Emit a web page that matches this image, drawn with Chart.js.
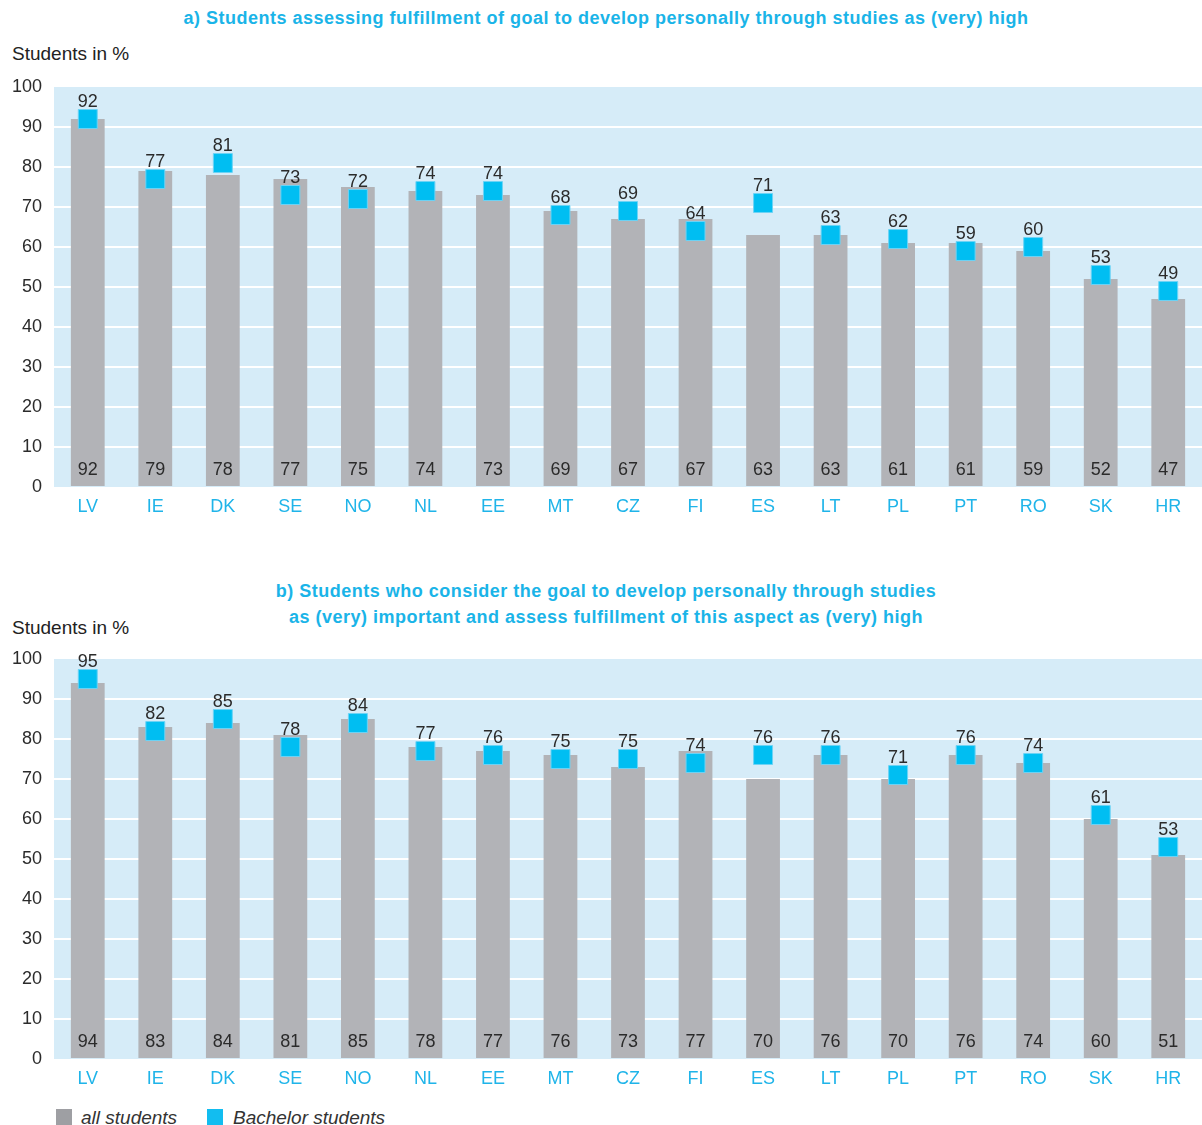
<!DOCTYPE html>
<html><head><meta charset="utf-8">
<script src="https://cdn.jsdelivr.net/npm/chart.js@4/dist/chart.umd.min.js"></script>
<style>
body{margin:0;background:#fff;width:1202px;height:1125px;position:relative;overflow:hidden;font-family:"Liberation Sans",Arial,sans-serif;}
.t{position:absolute;left:0;width:1212px;text-align:center;color:#1AB4E8;font-weight:bold;font-size:18px;letter-spacing:0.5px;}
.yl{position:absolute;left:12px;font-size:19px;color:#222;}
.cw{position:absolute;left:0;width:1202px;height:530px;}
.lg{position:absolute;top:1107px;font-size:19px;color:#333;font-style:italic;}
.sq{position:absolute;top:1109px;width:16px;height:16px;}
</style></head><body>
<div class="t" style="top:8px">a) Students assessing fulfillment of goal to develop personally through studies as (very) high</div>
<div class="yl" style="top:43px">Students in %</div>
<div class="cw" style="top:0"><canvas id="c1" width="1202" height="530"></canvas></div>
<div class="t" style="top:581px">b) Students who consider the goal to develop personally through studies</div>
<div class="t" style="top:607px">as (very) important and assess fulfillment of this aspect as (very) high</div>
<div class="yl" style="top:617px">Students in %</div>
<div class="cw" style="top:572px"><canvas id="c2" width="1202" height="530"></canvas></div>
<div class="sq" style="left:56px;background:#9E9FA3"></div>
<div class="lg" style="left:81px">all students</div>
<div class="sq" style="left:207px;background:#12BDF0"></div>
<div class="lg" style="left:233px">Bachelor students</div>
<script>
const categories = ["LV","IE","DK","SE","NO","NL","EE","MT","CZ","FI","ES","LT","PL","PT","RO","SK","HR"];
const allA = [92,79,78,77,75,74,73,69,67,67,63,63,61,61,59,52,47];
const bachA = [92,77,81,73,72,74,74,68,69,64,71,63,62,59,60,53,49];
const allB = [94,83,84,81,85,78,77,76,73,77,70,76,70,76,74,60,51];
const bachB = [95,82,85,78,84,77,76,75,75,74,76,76,71,76,74,61,53];
const yTicks = [0,10,20,30,40,50,60,70,80,90,100];

const FONT = "'Liberation Sans', Arial, sans-serif";
const bgPlugin = {
  id:'bg',
  beforeDraw(chart){
    const a = chart.chartArea, ctx = chart.ctx;
    ctx.save(); ctx.fillStyle = '#D6ECF8';
    ctx.fillRect(a.left, a.top, a.right-a.left, a.bottom-a.top);
    ctx.restore();
  }
};
const labelPlugin = {
  id:'lbl',
  afterDatasetsDraw(chart){
    const ctx = chart.ctx, y = chart.scales.y;
    ctx.save();
    ctx.font = "18px " + FONT; ctx.fillStyle = '#2b2b2b';
    ctx.textAlign = 'center'; ctx.textBaseline = 'middle';
    const bars = chart.getDatasetMeta(0).data;
    const pts = chart.getDatasetMeta(1).data;
    bars.forEach((b,i)=>{
      ctx.fillText(String(chart.data.datasets[0].data[i]), b.x, y.bottom - 17);
    });
    pts.forEach((p,i)=>{
      ctx.fillText(String(chart.data.datasets[1].data[i]), p.x, p.y - 17);
    });
    ctx.restore();
  }
};
function make(id, all, bach){
  new Chart(document.getElementById(id), {
    type:'bar',
    data:{labels:categories, datasets:[
      {label:'all students', data:all, backgroundColor:'#B2B3B7', barPercentage:0.5, categoryPercentage:1.0, order:2},
      {type:'line', label:'Bachelor students', data:bach, showLine:false, pointStyle:'rect', pointRadius:13.4,
       backgroundColor:'#00BEF2', borderColor:'#6CD3F5', borderWidth:1, order:1, clip:false}
    ]},
    options:{
      responsive:false, animation:false, devicePixelRatio:1,
      layout:{autoPadding:false, padding:{top:87,left:0,right:0,bottom:0}},
      plugins:{legend:{display:false}, tooltip:{enabled:false}},
      scales:{
        x:{grid:{display:false}, border:{display:false},
           ticks:{color:'#1FB4E9', font:{family:FONT, size:18}, padding:1, maxRotation:0},
           afterFit(s){ s.height = 43; s.paddingLeft = 0; s.paddingRight = 0; }},
        y:{min:0, max:100, border:{display:false},
           afterBuildTicks(s){ s.ticks = yTicks.map(v=>({value:v})); },
           grid:{drawTicks:false, lineWidth:2, color:(c)=> (c.tick && (c.tick.value===0||c.tick.value===100)) ? 'rgba(0,0,0,0)' : '#ffffff'},
           ticks:{color:'#2b2b2b', font:{family:FONT, size:18}, padding:12},
           afterFit(s){ s.width = 54; s.paddingTop = 0; s.paddingBottom = 0; }}
      }
    },
    plugins:[bgPlugin, labelPlugin]
  });
}
make('c1', allA, bachA);
make('c2', allB, bachB);
</script>
</body></html>
